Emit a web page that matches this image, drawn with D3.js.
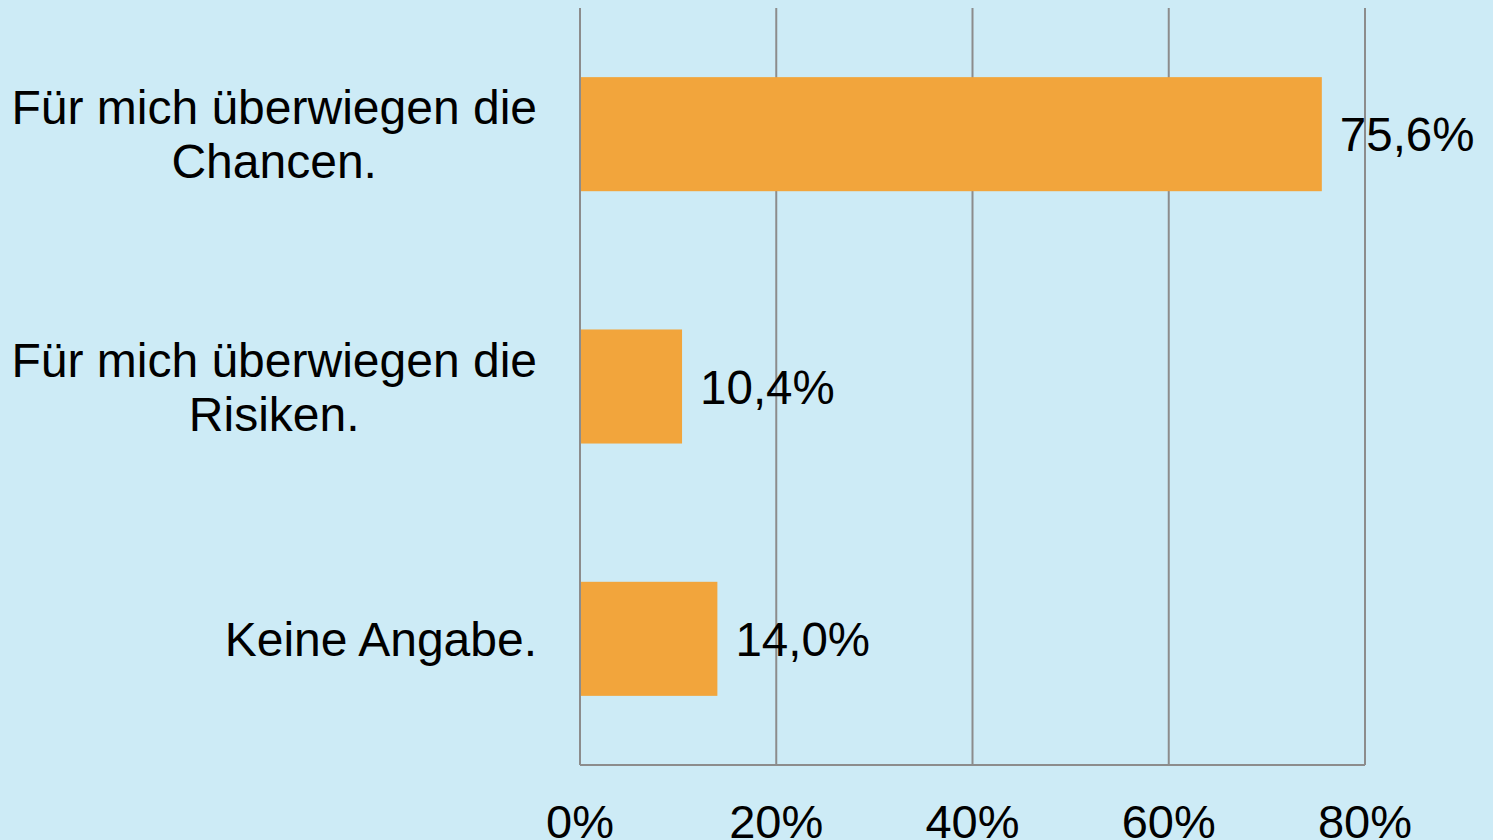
<!DOCTYPE html>
<html>
<head>
<meta charset="utf-8">
<script src="https://cdn.jsdelivr.net/npm/d3@7"></script>
<style>
  html, body { margin: 0; padding: 0; background: #cdebf6; }
  svg { display: block; font-family: "Liberation Sans", Arial, sans-serif; }
</style>
</head>
<body>
<svg></svg>
<script>
var categories = ["Für mich überwiegen die Chancen.", "Für mich überwiegen die Risiken.", "Keine Angabe."];
var values = [75.6, 10.4, 14.0];
var ticks = [0, 20, 40, 60, 80];

var width = 1493, height = 840;
var svg = d3.select("svg").attr("width", width).attr("height", height);

svg.append("rect").attr("width", width).attr("height", height).attr("fill", "#cdebf6");

var x = d3.scaleLinear().domain([0, 80]).range([580, 1365]);
var y = d3.scaleBand().domain(categories).range([8, 765])
  .paddingInner(0.548).paddingOuter(0.274);

var fmt = v => v.toFixed(1).replace(".", ",") + "%";

// vertical grid lines
svg.selectAll("line.grid")
  .data(ticks)
  .enter().append("line")
  .attr("class", "grid")
  .attr("x1", d => x(d)).attr("x2", d => x(d))
  .attr("y1", 8).attr("y2", 765)
  .attr("stroke", "#8c8c8c")
  .attr("stroke-width", 2);

// baseline
svg.append("line")
  .attr("x1", x(0)).attr("x2", x(80))
  .attr("y1", 765).attr("y2", 765)
  .attr("stroke", "#8c8c8c")
  .attr("stroke-width", 2);

// tick labels
svg.selectAll("text.tick")
  .data(ticks)
  .enter().append("text")
  .attr("class", "tick")
  .attr("x", d => x(d))
  .attr("y", 838)
  .attr("text-anchor", "middle")
  .attr("font-size", 47)
  .attr("fill", "#000")
  .text(d => d + "%");

// bars
svg.selectAll("rect.bar")
  .data(values)
  .enter().append("rect")
  .attr("class", "bar")
  .attr("x", x(0) + 1)
  .attr("y", (d, i) => y(categories[i]))
  .attr("width", d => x(d) - x(0) - 1)
  .attr("height", y.bandwidth())
  .attr("fill", "#f2a53c");

// value labels
svg.selectAll("text.val")
  .data(values)
  .enter().append("text")
  .attr("class", "val")
  .attr("x", d => x(d) + 18)
  .attr("y", (d, i) => y(categories[i]) + y.bandwidth() / 2)
  .attr("dy", "0.36em")
  .attr("font-size", 47.5)
  .attr("fill", "#000")
  .text(fmt);

// category labels, wrapped, lines centred within a right-aligned block
var maxW = 540, lineH = 54, rightEdge = 537, catSize = 48;
categories.forEach(function(c) {
  var words = c.split(" ");
  var probe = svg.append("text").attr("font-size", catSize);
  var lines = [], cur = "";
  words.forEach(function(w) {
    var t = cur ? cur + " " + w : w;
    probe.text(t);
    if (probe.node().getComputedTextLength() > maxW && cur) {
      lines.push(cur);
      cur = w;
    } else {
      cur = t;
    }
  });
  lines.push(cur);
  var widths = lines.map(function(l) { probe.text(l); return probe.node().getComputedTextLength(); });
  probe.remove();
  var blockW = d3.max(widths);
  var cx = rightEdge - blockW / 2;
  var cy = y(c) + y.bandwidth() / 2;
  var t = svg.append("text")
    .attr("text-anchor", "middle")
    .attr("font-size", catSize)
    .attr("fill", "#000");
  lines.forEach(function(l, i) {
    t.append("tspan")
      .attr("x", cx)
      .attr("y", cy + (i - (lines.length - 1) / 2) * lineH)
      .attr("dy", "0.36em")
      .text(l);
  });
});
</script>
</body>
</html>
